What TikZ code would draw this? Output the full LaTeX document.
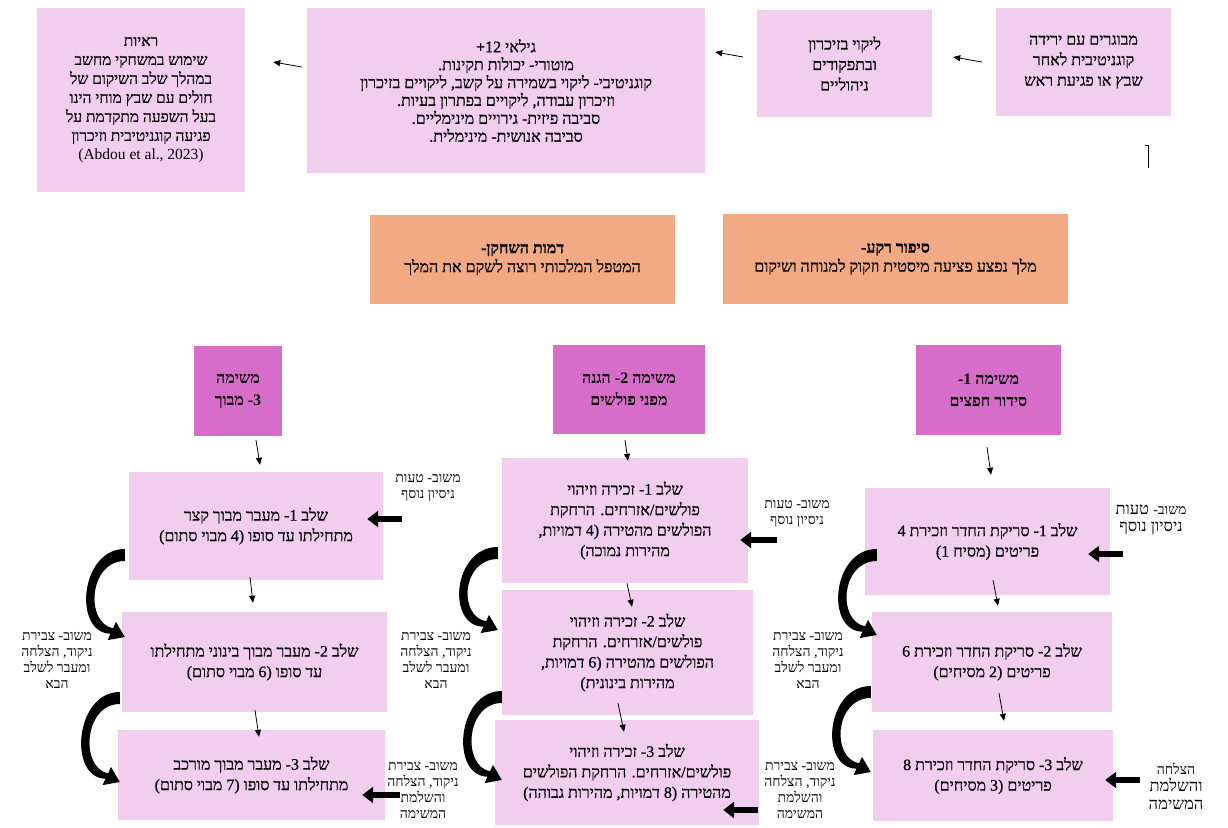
\documentclass[tikz,border=0pt]{standalone}
\usepackage{fontspec}
\setmainfont{Liberation Serif}
\newfontfamily\hebfont[Script=Hebrew]{Liberation Serif}
\newfontfamily\hebsemi[Script=Hebrew,FakeBold=0.6]{Liberation Serif}
\TeXXeTstate=1
\usetikzlibrary{arrows.meta,calc}
\definecolor{pinkfill}{RGB}{241,205,238}
\definecolor{purplefill}{RGB}{214,110,201}
\definecolor{orangefill}{RGB}{242,170,133}
\newcommand{\heb}[1]{\beginR#1\endR}
\tikzset{
  wh/.style 2 args={minimum width=#1pt, minimum height=#2pt},
  boxbase/.style={draw=none, inner sep=2pt, align=center, font=\hebsemi\fontsize{16}{20.5}\selectfont},
  pbox/.style={boxbase, fill=pinkfill},
  obox/.style={boxbase, fill=orangefill, font=\hebsemi\fontsize{16}{19}\selectfont},
  taskbox/.style={boxbase, fill=purplefill, font=\hebfont\bfseries\fontsize{16}{22}\selectfont},
  lbl/.style={align=center, inner sep=0pt, font=\hebfont\fontsize{14}{16}\selectfont},
  lblbig/.style={align=center, inner sep=0pt, font=\hebfont\fontsize{16.5}{17.5}\selectfont},
  thinarr/.style={-{Triangle[length=7pt,width=6pt]}, line width=0.8pt},
  blockarr/.style={-{Triangle[length=11pt,width=16pt]}, line width=6.5pt},
  pics/crescent/.style={code={
    \fill[black] (0,-6) .. controls (-45,-6) and (-52,#1-4) .. (-14.3,#1-3.3)
      -- (-17.2,#1+3.1) -- (0,#1) -- (-8.8,#1-15.1) -- (-11.7,#1-8.7)
      .. controls (-40,#1-14) and (-36,6) .. (0,6) -- cycle;
  }}
}
\begin{document}
\begin{tikzpicture}[x=1pt,y=-1pt]
\fill[white] (0,0) rectangle (1228,827);
\useasboundingbox (0,0) rectangle (1228,827);

% top row
\node[pbox, wh={175}{108}] (A) at (1083.5,62)
  {\heb{מבוגרים עם ירידה}\\\heb{קוגניטיבית לאחר}\\\heb{שבץ או פגיעת ראש}};
\node[pbox, wh={175}{107}] (B) at (844.5,63.5)
  {\heb{ליקוי בזיכרון}\\\heb{ובתפקודים}\\\heb{ניהוליים}};
\node[pbox, wh={398}{165}, font=\hebsemi\fontsize{16}{17.9}\selectfont] (C) at (506,90.5)
  {\heb{גילאי 12+}\\\heb{מוטורי- יכולות תקינות.}\\\heb{קוגניטיבי- ליקוי בשמירה על קשב, ליקויים בזיכרון}\\\heb{וזיכרון עבודה, ליקויים בפתרון בעיות.}\\\heb{סביבה פיזית- גירויים מינימליים.}\\\heb{סביבה אנושית- מינימלית.}};
\node[pbox, wh={208}{184}, font=\hebsemi\fontsize{15.5}{19}\selectfont] (D) at (141,100)
  {\heb{ראיות}\\\heb{שימוש במשחקי מחשב}\\\heb{במהלך שלב השיקום של}\\\heb{חולים עם שבץ מוחי הינו}\\\heb{בעל השפעה מתקדמת על}\\\heb{פגיעה קוגניטיבית וזיכרון}\\{\normalfont (Abdou et al., 2023)}};

\draw[thinarr] ($(A.west)+(-14,0)$) -- ($(B.east)+(21,-6.5)$);
\draw[thinarr] ($(B.west)+(-14,-6.5)$) -- ($(C.east)+(10,-38.5)$);
\draw[thinarr] ($(C.west)+(-5,-23.5)$) -- ($(D.east)+(28,-38)$);

\coordinate (stroke) at (1148,145);
\draw[line width=1pt] ($(stroke)+(-3,0)$) -- (stroke) -- ++(0,23);

% orange boxes
\node[obox, wh={305}{89}] (E) at (522.5,259.5)
  {\textbf{\heb{דמות השחקן-}}\\\heb{המטפל המלכותי רוצה לשקם את המלך}};
\node[obox, wh={345}{90}] (F) at (895.5,259)
  {\textbf{\heb{סיפור רקע-}}\\\heb{מלך נפצע פציעה מיסטית וזקוק למנוחה ושיקום}};

% task headers
\node[taskbox, wh={88}{90}] (H3) at (238,391) {\heb{משימה}\\\heb{3- מבוך}};
\node[taskbox, wh={152}{89}] (H2) at (629,389.5) {\heb{משימה 2- הגנה}\\\heb{מפני פולשים}};
\node[taskbox, wh={145}{90}] (H1) at (988.5,390) {\heb{משימה 1-}\\\heb{סידור חפצים}};

% left column
\node[pbox, wh={254}{108}] (L1) at (256,526)
  {\heb{שלב 1- מעבר מבוך קצר}\\\heb{מתחילתו עד סופו (4 מבוי סתום)}};
\node[pbox, wh={265}{100}] (L2) at (254.5,662)
  {\heb{שלב 2- מעבר מבוך בינוני מתחילתו}\\\heb{עד סופו (6 מבוי סתום)}};
\node[pbox, wh={267}{90}] (L3) at (251.5,775)
  {\heb{שלב 3- מעבר מבוך מורכב}\\\heb{מתחילתו עד סופו (7 מבוי סתום)}};

% middle column
\node[pbox, wh={246}{125}] (M1) at (625,520.5)
  {\heb{שלב 1- זכירה וזיהוי}\\\heb{פולשים/אזרחים. הרחקת}\\\heb{הפולשים מהטירה (4 דמויות,}\\\heb{מהירות נמוכה)}};
\node[pbox, wh={251}{125}] (M2) at (627.5,652.5)
  {\heb{שלב 2- זכירה וזיהוי}\\\heb{פולשים/אזרחים. הרחקת}\\\heb{הפולשים מהטירה (6 דמויות,}\\\heb{מהירות בינונית)}};
\node[pbox, wh={264}{105}] (M3) at (627,772.5)
  {\heb{שלב 3- זכירה וזיהוי}\\\heb{פולשים/אזרחים. הרחקת הפולשים}\\\heb{מהטירה (8 דמויות, מהירות גבוהה)}};

% right column
\node[pbox, wh={245}{107}] (R1) at (987.5,541.5)
  {\heb{שלב 1- סריקת החדר וזכירת 4}\\\heb{פריטים (מסיח 1)}};
\node[pbox, wh={240}{100}] (R2) at (992,662)
  {\heb{שלב 2- סריקת החדר וזכירת 6}\\\heb{פריטים (2 מסיחים)}};
\node[pbox, wh={240}{91}] (R3) at (993,775.5)
  {\heb{שלב 3- סריקת החדר וזכירת 8}\\\heb{פריטים (3 מסיחים)}};

% thin arrows
\draw[thinarr] ($(H3.south)+(18,4)$) -- ($(L1.north)+(4,-7)$);
\draw[thinarr] ($(H2.south)+(-4,6)$) -- ($(M1.north)+(3,3)$);
\draw[thinarr] ($(H1.south)+(-1.5,12)$) -- ($(R1.north)+(3.5,-13)$);
\draw[thinarr] ($(L1.south)+(-6,-3)$) -- ($(L2.north)+(-1.5,-9)$);
\draw[thinarr] ($(L2.south)+(0.5,-2)$) -- ($(L3.north)+(7.5,7)$);
\draw[thinarr] ($(M1.south)+(2,0)$) -- ($(M2.north)+(4.5,17)$);
\draw[thinarr] ($(M2.south)+(-9.5,-12)$) -- ($(M3.north)+(-3,12)$);
\draw[thinarr] ($(R1.south)+(5.5,-15)$) -- ($(R2.north)+(6,-6)$);
\draw[thinarr] ($(R2.south)+(7,-19)$) -- ($(R3.north)+(11,-9)$);

% curved arrows
\pic at ($(L1.west)+(-4,29)$) {crescent=82};
\pic at ($(L2.west)+(-2,36)$) {crescent=84};
\pic at ($(M1.west)+(-4,32.5)$) {crescent=77};
\pic at ($(M2.west)+(0,44.5)$) {crescent=83};
\pic at ($(R1.west)+(12,13.5)$) {crescent=80};
\pic at ($(R2.west)+(-1,30)$) {crescent=80};

% block arrows
\draw[blockarr] ($(L1.east)+(19,-7)$) -- ($(L1.east)+(-16,-7)$);
\draw[blockarr] ($(L3.east)+(15,20)$) -- ($(L3.east)+(-23,20)$);
\draw[blockarr] ($(M1.east)+(29,19.5)$) -- ($(M1.east)+(-8,19.5)$);
\draw[blockarr] ($(M3.east)+(-1,37.5)$) -- ($(M3.east)+(-36,37.5)$);
\draw[blockarr] ($(R1.east)+(13,12.5)$) -- ($(R1.east)+(-22,12.5)$);
\draw[blockarr] ($(R3.east)+(27,4.5)$) -- ($(R3.east)+(-8,4.5)$);

% feedback labels
\node[lbl] (fbL1) at (428,488) {\heb{משוב- טעות}\\\heb{ניסיון נוסף}};
\node[lbl] (fbL2) at (57,660) {\heb{משוב- צבירת}\\\heb{ניקוד, הצלחה}\\\heb{ומעבר לשלב}\\\heb{הבא}};
\node[lbl] (fbM2) at (436,660) {\heb{משוב- צבירת}\\\heb{ניקוד, הצלחה}\\\heb{ומעבר לשלב}\\\heb{הבא}};
\node[lbl] (fbL3) at (423,790) {\heb{משוב- צבירת}\\\heb{ניקוד, הצלחה}\\\heb{והשלמת}\\\heb{המשימה}};
\node[lbl] (fbM1) at (797,514) {\heb{משוב- טעות}\\\heb{ניסיון נוסף}};
\node[lbl] (fbR2) at (808,660) {\heb{משוב- צבירת}\\\heb{ניקוד, הצלחה}\\\heb{ומעבר לשלב}\\\heb{הבא}};
\node[lbl] (fbM3) at (800,790) {\heb{משוב- צבירת}\\\heb{ניקוד, הצלחה}\\\heb{והשלמת}\\\heb{המשימה}};
\node[lblbig] (fbR1) at (1151,520) {\heb{{\fontsize{14}{17.5}\selectfont משוב-} טעות}\\\heb{ניסיון נוסף}};
\node[lblbig] (fbR3) at (1176,786) {\heb{{\fontsize{14}{17.5}\selectfont הצלחה}}\\\heb{והשלמת}\\\heb{המשימה}};
\end{tikzpicture}
\end{document}
